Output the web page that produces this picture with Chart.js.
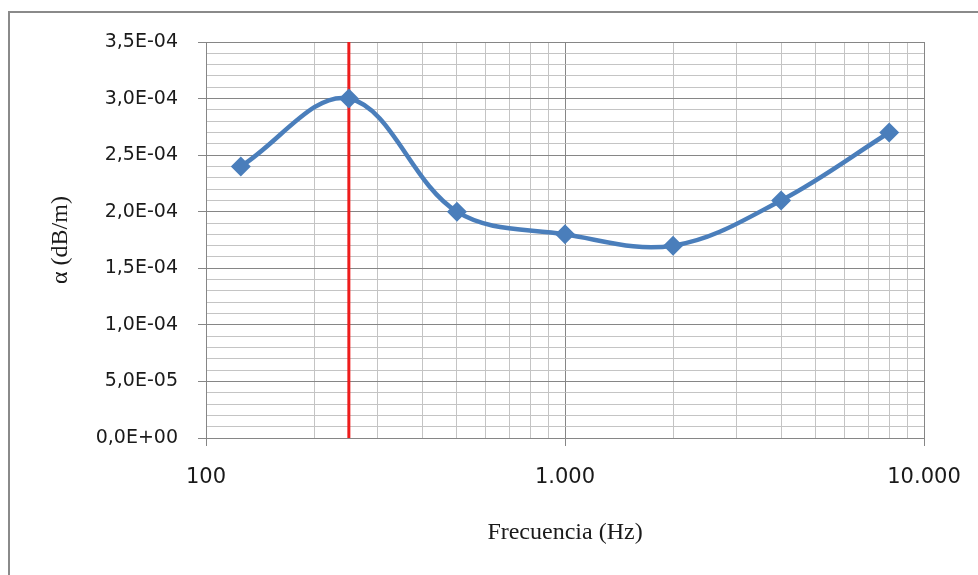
<!DOCTYPE html>
<html>
<head>
<meta charset="utf-8">
<script src="https://cdn.jsdelivr.net/npm/chart.js@4/dist/chart.umd.min.js"></script>
<style>
  html, body { margin: 0; padding: 0; background: #ffffff; overflow: hidden; }
  canvas { display: block; }
</style>
</head>
<body>
<canvas id="c" width="978" height="575"></canvas>
<script>
// ---- data ----
const frequencies = [125, 250, 500, 1000, 2000, 4000, 8000];
const alphaValues = [2.4e-4, 3.0e-4, 2.0e-4, 1.8e-4, 1.7e-4, 2.1e-4, 2.7e-4];
const markerFrequency = [250, 250];
const markerValues = [0, 3.5e-4];

const xMajorTicks = [100, 1000, 10000];
const xTickLabels = ['100', '1.000', '10.000'];
const yMajorTicks = [0, 5e-5, 1e-4, 1.5e-4, 2e-4, 2.5e-4, 3e-4, 3.5e-4];
const yTickLabels = ['0,0E+00', '5,0E-05', '1,0E-04', '1,5E-04', '2,0E-04', '2,5E-04', '3,0E-04', '3,5E-04'];

const xTitle = 'Frecuencia (Hz)';
const yTitle = 'α (dB/m)';

// ---- helpers ----
const MAJOR = '#868686';
const MINOR = '#c4c4c4';
function isXMajor(v) { return xMajorTicks.some(m => Math.abs(m - v) < 1e-6); }
function yIndex(v) { return yMajorTicks.findIndex(m => Math.abs(m - v) < 1e-9); }

// minor tick positions (decade subdivisions / fifths)
const xAllTicks = [];
for (let d = 0; d < xMajorTicks.length - 1; d++) {
  for (let k = 1; k <= 9; k++) xAllTicks.push(xMajorTicks[d] * k);
}
xAllTicks.push(xMajorTicks[xMajorTicks.length - 1]);
const yAllTicks = [];
for (let i = 0; i < yMajorTicks.length - 1; i++) {
  const a = yMajorTicks[i], b = yMajorTicks[i + 1];
  for (let k = 0; k < 5; k++) yAllTicks.push(a + (b - a) * k / 5);
}
yAllTicks.push(yMajorTicks[yMajorTicks.length - 1]);

const framePlugin = {
  id: 'frame',
  beforeDraw(chart) {
    const ctx = chart.ctx;
    ctx.save();
    ctx.fillStyle = '#ffffff';
    ctx.fillRect(0, 0, chart.width, chart.height);
    ctx.fillStyle = '#8a8a8a';
    ctx.fillRect(9, 11, chart.width - 9, 2);
    ctx.fillRect(8, 11, 2, chart.height - 11);
    ctx.restore();
  }
};

new Chart(document.getElementById('c'), {
  type: 'scatter',
  data: {
    datasets: [
      {
        label: 'marker',
        data: markerFrequency.map((x, i) => ({ x, y: markerValues[i] })),
        showLine: true,
        borderColor: '#ee1c1c',
        borderWidth: 3,
        pointRadius: 0,
        order: 2
      },
      {
        label: 'alpha',
        data: frequencies.map((x, i) => ({ x, y: alphaValues[i] })),
        showLine: true,
        borderColor: '#4a7ebb',
        backgroundColor: '#4a7ebb',
        borderWidth: 4.5,
        tension: 0.36,
        pointStyle: 'rectRot',
        pointRadius: 10,
        pointBorderWidth: 0,
        order: 1
      }
    ]
  },
  options: {
    responsive: false,
    animation: false,
    layout: { padding: { left: 0, top: 42, right: 54, bottom: 0 } },
    plugins: { legend: { display: false }, tooltip: { enabled: false } },
    scales: {
      x: {
        type: 'logarithmic',
        min: 100,
        max: 10000,
        afterBuildTicks(scale) { scale.ticks = xAllTicks.map(v => ({ value: v, major: isXMajor(v) })); },
        afterFit(scale) { scale.height = 137; scale.paddingRight = 0; scale.paddingLeft = 0; },
        grid: {
          color: ctx => isXMajor(ctx.tick.value) ? MAJOR : MINOR,
          tickColor: ctx => isXMajor(ctx.tick.value) ? MAJOR : 'rgba(0,0,0,0)',
          tickLength: 8,
          lineWidth: 1
        },
        border: { display: true, color: MAJOR, width: 1 },
        ticks: {
          autoSkip: false,
          maxRotation: 0,
          minRotation: 0,
          padding: 19,
          color: '#1a1a1a',
          font: { family: 'DejaVu Sans', size: 21 },
          callback(v) {
            const i = xMajorTicks.findIndex(m => Math.abs(m - v) < 1e-6);
            return i >= 0 ? xTickLabels[i] : '';
          }
        },
        title: {
          display: true,
          text: xTitle,
          color: '#1a1a1a',
          font: { family: 'Liberation Serif', size: 24 },
          padding: { top: 0, bottom: 28 }
        }
      },
      y: {
        type: 'linear',
        min: 0,
        max: 3.5e-4,
        afterBuildTicks(scale) { scale.ticks = yAllTicks.map(v => ({ value: v })); },
        afterFit(scale) { scale.width = 206; scale.paddingTop = 0; scale.paddingBottom = 0; },
        grid: {
          color: ctx => yIndex(ctx.tick.value) >= 0 ? MAJOR : MINOR,
          tickColor: ctx => yIndex(ctx.tick.value) >= 0 ? MAJOR : 'rgba(0,0,0,0)',
          tickLength: 8,
          lineWidth: 1
        },
        border: { display: true, color: MAJOR, width: 1 },
        ticks: {
          autoSkip: false,
          padding: 20,
          color: '#1a1a1a',
          font: { family: 'DejaVu Sans', size: 19 },
          callback(v) {
            const i = yIndex(v);
            return i >= 0 ? yTickLabels[i] : '';
          }
        },
        title: {
          display: true,
          text: yTitle,
          color: '#1a1a1a',
          font: { family: 'Liberation Serif', size: 24 },
          padding: { top: 46, bottom: 0 }
        }
      }
    }
  },
  plugins: [framePlugin]
});
</script>
</body>
</html>
